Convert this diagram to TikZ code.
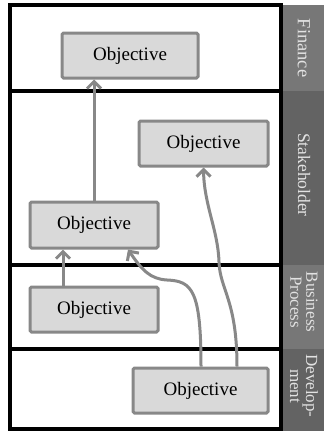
\documentclass[tikz,border=0pt]{standalone}
\usepackage{fontspec}
\setmainfont{Liberation Serif}
\usetikzlibrary{arrows.meta}
\definecolor{boxfill}{HTML}{D9D9D9}
\definecolor{boxline}{HTML}{888888}
\definecolor{bandA}{HTML}{777777}
\definecolor{bandB}{HTML}{636363}
\definecolor{bandtext}{HTML}{E2E2E2}
\tikzset{
  objbox/.style={draw=boxline, fill=boxfill, line width=3pt, rounded corners=1.5pt,
    inner sep=0pt, font=\fontsize{19}{21}\selectfont},
  link/.style={draw=boxline, line width=3pt,
    -{Straight Barb[length=7pt,width=14pt,line width=3pt]}},
  frameline/.style={line width=3.4pt, black},
  bandlabel/.style={text=bandtext, rotate=-90, align=center, inner sep=0pt},
}
\begin{document}
\begin{tikzpicture}[x=1pt,y=-1pt]
\useasboundingbox (0,0) rectangle (324,431);
\fill[white] (0,0) rectangle (324,431);
% side bands with the layer names
\fill[bandA] (283,5) rectangle (324,91);
\fill[bandB] (283,91) rectangle (324,265);
\fill[bandA] (283,265) rectangle (324,349);
\fill[bandB] (283,349) rectangle (324,431);
\node[bandlabel, font=\fontsize{18.5}{19}\selectfont] (lfin) at (304,48) {Finance};
\node[bandlabel, font=\fontsize{17.5}{19}\selectfont] (lsh) at (304,175) {Stakeholder};
\node[bandlabel, font=\fontsize{17}{16}\selectfont] (lbp) at (304,302) {Business\\Process};
\node[bandlabel, font=\fontsize{17}{16}\selectfont] (ldev) at (304,386) {Develop-\\ment};
% lane frame and separators
\draw[frameline] (10,5) rectangle (281,429);
\draw[frameline] (10,91) -- (281,91);
\draw[frameline] (10,265) -- (281,265);
\draw[frameline] (10,349) -- (281,349);
% objectives
\node[objbox, minimum width=136pt, minimum height=45pt] (fin) at (130,55.5) {Objective};
\node[objbox, minimum width=129pt, minimum height=45pt] (sh1) at (203.5,143.5) {Objective};
\node[objbox, minimum width=128pt, minimum height=46pt] (sh2) at (94,225) {Objective};
\node[objbox, minimum width=128pt, minimum height=45pt] (bp) at (94,309.5) {Objective};
\node[objbox, minimum width=135pt, minimum height=45pt] (dev) at (200.5,390.5) {Objective};
% contributions
\draw[link] (sh2.north) -- (sh2.north |- fin.south);
\draw[link] ([xshift=-31pt]bp.north) -- ([xshift=-31pt]sh2.south);
\draw[link] ([xshift=0.5pt]dev.north) .. controls (201,290) and (192,281) .. (167,280)
  .. controls (150,279) and (142,270) .. ([xshift=34pt]sh2.south);
\draw[link] ([xshift=36.5pt]dev.north) .. controls (237,300) and (220,290) .. (219,262)
  .. controls (218,230) and (204,205) .. (sh1.south);
\end{tikzpicture}
\end{document}
